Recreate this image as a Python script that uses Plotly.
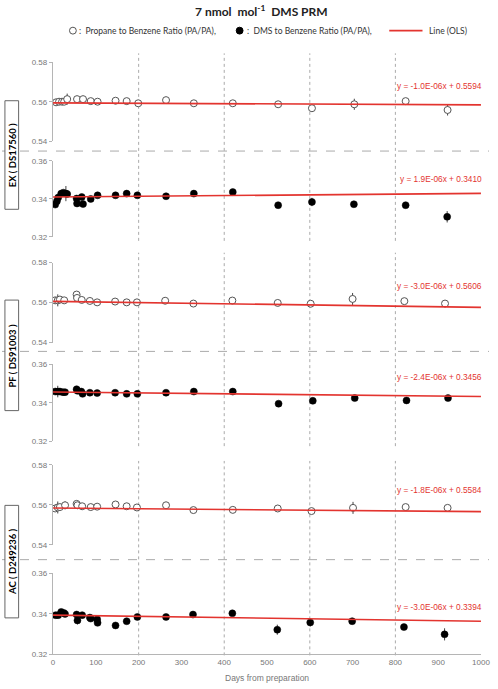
import plotly.graph_objects as go

W, H = 498, 689

# ---------------- data ----------------
EX_p_days = [7, 14, 21, 26, 33, 56, 70, 88, 104, 146, 172, 199, 264, 329, 420, 526, 605, 704, 824, 922]
EX_p_vals = [0.5597, 0.5600, 0.5600, 0.5600, 0.5613, 0.5613, 0.5613, 0.5603, 0.5600, 0.5605, 0.5603, 0.5592,
             0.5608, 0.5592, 0.5592, 0.5587, 0.5567, 0.5587, 0.5603, 0.5558]
EX_p_err = [0.0008, 0.0008, 0.0008, 0.0008, 0.0028, 0.0008, 0.0008, 0.0008, 0.0008, 0.0008, 0.0008, 0.0008,
            0.0008, 0.0008, 0.0008, 0.0012, 0.0008, 0.0028, 0.0008, 0.0028]

EX_d_days = [5, 9, 12, 19, 24, 30, 33, 55, 56, 67, 70, 88, 104, 146, 172, 197, 264, 329, 420, 526, 605, 703, 824, 921]
EX_d_vals = [0.3370, 0.3388, 0.3407, 0.3428, 0.3433, 0.3428, 0.3426, 0.3402, 0.3376, 0.3410, 0.3373, 0.3400,
             0.3419, 0.3419, 0.3428, 0.3419, 0.3414, 0.3428, 0.3436, 0.3367, 0.3384, 0.3372, 0.3367, 0.3306]
EX_d_err = [0.0012, 0.0012, 0.0012, 0.0012, 0.0012, 0.0040, 0.0012, 0.0012, 0.0015, 0.0012, 0.0015, 0.0012,
            0.0010, 0.0010, 0.0010, 0.0010, 0.0010, 0.0010, 0.0010, 0.0010, 0.0022, 0.0010, 0.0015, 0.0030]

PF_p_days = [5, 11, 16, 26, 55, 56, 67, 86, 103, 145, 172, 196, 262, 328, 419, 525, 602, 700, 821, 916]
PF_p_vals = [0.5611, 0.5611, 0.5615, 0.5611, 0.5640, 0.5623, 0.5613, 0.5608, 0.5601, 0.5605, 0.5601, 0.5601,
             0.5609, 0.5595, 0.5610, 0.5598, 0.5594, 0.5618, 0.5607, 0.5595]
PF_p_err = [0.0015, 0.0030, 0.0015, 0.0010, 0.0012, 0.0010, 0.0008, 0.0008, 0.0008, 0.0008, 0.0008, 0.0008,
            0.0008, 0.0008, 0.0015, 0.0008, 0.0008, 0.0030, 0.0008, 0.0008]

PF_d_days = [5, 11, 16, 23, 28, 55, 57, 66, 69, 86, 103, 145, 172, 197, 264, 329, 420, 527, 607, 705, 826, 923]
PF_d_vals = [0.3458, 0.3458, 0.3458, 0.3455, 0.3455, 0.3470, 0.3462, 0.3458, 0.3446, 0.3452, 0.3450, 0.3452,
             0.3446, 0.3446, 0.3452, 0.3458, 0.3458, 0.3395, 0.3410, 0.3424, 0.3412, 0.3424]
PF_d_err = [0.0010, 0.0030, 0.0010, 0.0010, 0.0010, 0.0010, 0.0010, 0.0008, 0.0008, 0.0008, 0.0008, 0.0008,
            0.0008, 0.0008, 0.0008, 0.0008, 0.0008, 0.0008, 0.0008, 0.0008, 0.0008, 0.0010]

AC_p_days = [5, 11, 16, 28, 55, 57, 68, 88, 103, 146, 172, 196, 264, 328, 420, 525, 604, 701, 824, 922]
AC_p_vals = [0.5582, 0.5587, 0.5589, 0.5598, 0.5605, 0.5598, 0.5593, 0.5589, 0.5591, 0.5602, 0.5593, 0.5587,
             0.5598, 0.5574, 0.5575, 0.5582, 0.5569, 0.5585, 0.5589, 0.5585]
AC_p_err = [0.0010, 0.0030, 0.0012, 0.0020, 0.0010, 0.0008, 0.0008, 0.0008, 0.0008, 0.0008, 0.0008, 0.0008,
            0.0008, 0.0008, 0.0015, 0.0008, 0.0008, 0.0030, 0.0008, 0.0008]

AC_d_days = [6, 12, 19, 25, 28, 55, 57, 68, 86, 88, 103, 104, 146, 172, 197, 264, 327, 419, 524, 601, 699, 820, 915]
AC_d_vals = [0.3394, 0.3394, 0.3410, 0.3405, 0.3400, 0.3397, 0.3368, 0.3394, 0.3382, 0.3377, 0.3374, 0.3356,
             0.3343, 0.3364, 0.3385, 0.3385, 0.3397, 0.3403, 0.3322, 0.3358, 0.3364, 0.3335, 0.3299]
AC_d_err = [0.0012, 0.0012, 0.0012, 0.0012, 0.0015, 0.0012, 0.0020, 0.0012, 0.0012, 0.0012, 0.0012, 0.0012,
            0.0010, 0.0010, 0.0012, 0.0012, 0.0010, 0.0010, 0.0025, 0.0020, 0.0010, 0.0010, 0.0030]

slopes = [-1.0e-6, 1.9e-6, -3.0e-6, -2.4e-6, -1.8e-6, -3.0e-6]
intercepts = [0.5594, 0.3410, 0.5606, 0.3456, 0.5584, 0.3394]
eq_texts = ["y = -1.0E-06x + 0.5594", "y = 1.9E-06x + 0.3410", "y = -3.0E-06x + 0.5606",
            "y = -2.4E-06x + 0.3456", "y = -1.8E-06x + 0.5584", "y = -3.0E-06x + 0.3394"]
group_labels = ["EX ( DS17560 )", "PF ( DS91003 )", "AC ( D249236 )"]
prop_ticks = [0.54, 0.56, 0.58]
dms_ticks = [0.32, 0.34, 0.36]
x_ticks = [0, 100, 200, 300, 400, 500, 600, 700, 800, 900, 1000]
grid_days = [200, 400, 600, 800]

# ---------------- layout helpers ----------------
def px_y(py):
    return 1 - py / H

def px_x(px):
    return px / W

RED = "#e3342f"
GREY = "#b5b5b5"
TICKF = dict(family="Liberation Sans, Arial", size=8, color="#777")

panels = [
    (EX_p_days, EX_p_vals, EX_p_err, "open", (139, 59), prop_ticks),
    (EX_d_days, EX_d_vals, EX_d_err, "fill", (236, 159), dms_ticks),
    (PF_p_days, PF_p_vals, PF_p_err, "open", (343, 262), prop_ticks),
    (PF_d_days, PF_d_vals, PF_d_err, "fill", (443, 365), dms_ticks),
    (AC_p_days, AC_p_vals, AC_p_err, "open", (548, 467), prop_ticks),
    (AC_d_days, AC_d_vals, AC_d_err, "fill", (659, 577), dms_ticks),
]
eq_py = [83, 177, 286, 378, 492, 611]

fig = go.Figure()
layout = dict(
    width=W, height=H, margin=dict(l=0, r=0, t=0, b=0),
    paper_bgcolor="white", plot_bgcolor="rgba(0,0,0,0)",
    showlegend=False,
    xaxis=dict(domain=[px_x(52), px_x(490)], range=[-0.5, 1000.5], tickvals=x_ticks,
               ticktext=[str(t) for t in x_ticks], ticklabeloverflow="allow",
               showline=True, linecolor=GREY, linewidth=1, ticks="", showgrid=False,
               zeroline=False, anchor="y6", tickfont=TICKF),
)

shapes = []
annotations = []

for i, (days, vals, err, kind, (pb, pt), ticks) in enumerate(panels):
    yname = "y" if i == 0 else f"y{i+1}"
    ykey = "yaxis" if i == 0 else f"yaxis{i+1}"
    layout[ykey] = dict(
        domain=[px_y(pb), px_y(pt)], range=[ticks[0], ticks[-1]], tickvals=ticks,
        ticktext=[f"{t:.2f}" for t in ticks], showline=True, linecolor=GREY, linewidth=1,
        ticks="outside", ticklen=3, tickcolor=GREY, showgrid=False, zeroline=False,
        anchor="x", tickfont=TICKF, ticklabeloverflow="allow",
    )
    if kind == "open":
        marker = dict(symbol="circle", size=7, color="white", line=dict(color="#555", width=1))
        name = "Propane to Benzene Ratio (PA/PA)"
    else:
        marker = dict(symbol="circle", size=7, color="black", line=dict(color="black", width=0.5))
        name = "DMS to Benzene Ratio (PA/PA)"
    fig.add_trace(go.Scatter(
        x=days, y=vals, mode="markers", marker=marker, name=name, yaxis=yname, xaxis="x",
        error_y=dict(type="data", array=err, visible=True, color="#444", thickness=1, width=0),
    ))
    xs = [0, 1000]
    ys = [intercepts[i] + slopes[i] * x for x in xs]
    fig.add_trace(go.Scatter(x=xs, y=ys, mode="lines", line=dict(color=RED, width=1.6),
                             name="Line (OLS)", yaxis=yname, xaxis="x"))
    annotations.append(dict(text=eq_texts[i], x=px_x(493), y=px_y(eq_py[i]), xref="paper", yref="paper",
                            xanchor="right", yanchor="middle", showarrow=False,
                            font=dict(family="Liberation Sans, Arial", size=8.3, color=RED)))

# vertical dotted grid lines per group
groups = [(50, 240), (252, 448), (463, 660)]
for (gt, gb) in groups:
    for d in grid_days:
        shapes.append(dict(type="line", xref="x", yref="paper", x0=d, x1=d, y0=px_y(gb), y1=px_y(gt),
                           line=dict(color="#aaa", width=1, dash="dot"), layer="below"))

# horizontal dashed separators
for sy in [149, 352, 563]:
    shapes.append(dict(type="line", xref="paper", yref="paper", x0=0, x1=1, y0=px_y(sy), y1=px_y(sy),
                       line=dict(color="#aaa", width=1, dash="dash"), layer="below"))

# group label boxes
boxes = [(98, 208), (300, 412), (508, 622)]
for lbl, (bt, bb) in zip(group_labels, boxes):
    shapes.append(dict(type="rect", xref="paper", yref="paper", x0=px_x(3), x1=px_x(17),
                       y0=px_y(bb), y1=px_y(bt), line=dict(color="#666", width=1), fillcolor="white"))
    annotations.append(dict(text=f"<b>{lbl}</b>", x=px_x(10.5), y=px_y((bt + bb) / 2), xref="paper",
                            yref="paper", textangle=-90, showarrow=False, xanchor="center", yanchor="middle",
                            font=dict(family="Lato, Open Sans", size=9.5, color="black")))

# title
annotations.append(dict(text="<b>7 nmol  mol<sup>-1</sup>  DMS PRM</b>", x=px_x(265), y=px_y(7),
                        xref="paper", yref="paper", showarrow=False, xanchor="center", yanchor="middle",
                        font=dict(family="Lato, Open Sans", size=12, color="#222")))

# legend (drawn)
LEGF = dict(family="Lato, Open Sans", size=8.5, color="#333")
ly = px_y(27)
shapes.append(dict(type="circle", xref="paper", yref="paper", x0=px_x(69), x1=px_x(76),
                   y0=px_y(30.5), y1=px_y(23.5), line=dict(color="#555", width=1), fillcolor="white"))
shapes.append(dict(type="circle", xref="paper", yref="paper", x0=px_x(239.5), x1=px_x(246.5),
                   y0=px_y(30.5), y1=px_y(23.5), line=dict(color="black", width=1), fillcolor="black"))
shapes.append(dict(type="line", xref="paper", yref="paper", x0=px_x(396), x1=px_x(430), y0=ly, y1=ly,
                   line=dict(color=RED, width=1.6)))
annotations.append(dict(text=":  Propane to Benzene Ratio (PA/PA),", x=px_x(77), y=ly, xref="paper", yref="paper",
                        xanchor="left", yanchor="middle", showarrow=False, font=LEGF))
annotations.append(dict(text=":  DMS to Benzene Ratio (PA/PA),", x=px_x(248), y=ly, xref="paper", yref="paper",
                        xanchor="left", yanchor="middle", showarrow=False, font=LEGF))
annotations.append(dict(text="Line (OLS)", x=px_x(435), y=ly, xref="paper", yref="paper",
                        xanchor="left", yanchor="middle", showarrow=False, font=LEGF))

# x axis title
annotations.append(dict(text="Days from preparation", x=px_x(271), y=px_y(683), xref="paper", yref="paper",
                        xanchor="center", yanchor="middle", showarrow=False,
                        font=dict(family="Liberation Sans, Arial", size=8.5, color="#777")))

layout["shapes"] = shapes
layout["annotations"] = annotations
fig.update_layout(**layout)
fig.write_html("out.html")
